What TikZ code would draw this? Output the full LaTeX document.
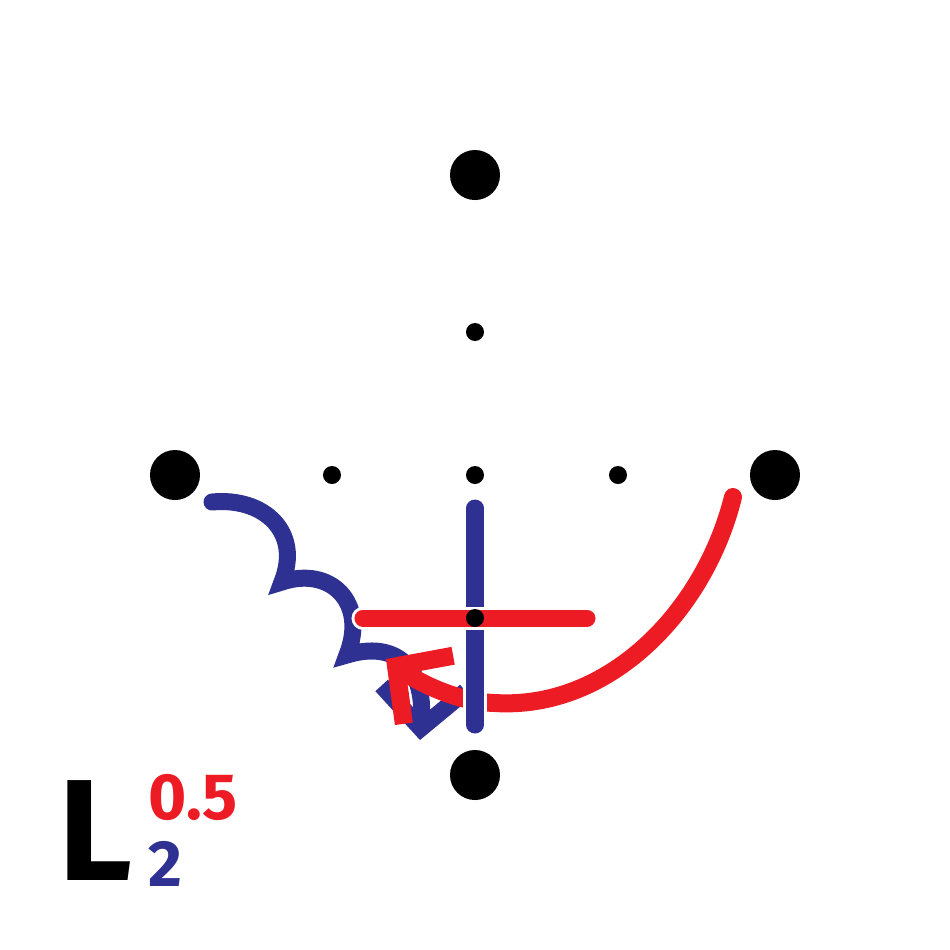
\documentclass[tikz,border=0pt]{standalone}
\usepackage{fontspec}
\setmainfont{Fira Sans}
\usetikzlibrary{arrows.meta}
\definecolor{myred}{HTML}{ED1C24}
\definecolor{myblue}{HTML}{2E3192}
\begin{document}
\begin{tikzpicture}[x=0.01cm,y=-0.01cm,
  bigdot/.style={circle,fill=black,inner sep=0pt,minimum size=0.5cm},
  smalldot/.style={circle,fill=black,inner sep=0pt,minimum size=0.18cm},
  strand/.style={line width=0.17cm,line cap=round},
  gapline/.style={line width=0.23cm,line cap=round,white},
  barb/.style={-{Straight Barb[length=0.4cm,width=0.84cm]}},
  lbl/.style={anchor=base west,inner sep=0pt,text depth=0pt}]
\useasboundingbox (0,0) rectangle (950,950);
% dots
\node[bigdot] (n) at (475,175) {};
\node[bigdot] (w) at (175,475) {};
\node[bigdot] (e) at (775,475) {};
\node[bigdot] (s) at (475,775) {};
\node[smalldot] (a) at (475,332) {};
\node[smalldot] (b) at (332,475) {};
\node[smalldot] (d) at (618,475) {};
% line end coordinates
\coordinate (bw0) at (212,502);
\coordinate (bw1) at (282,582);
\coordinate (bw2) at (347,655);
\coordinate (bw3) at (420,740);
\coordinate (rc0) at (733,497);
\coordinate (rc1) at (495,703);
\coordinate (rc2) at (386,659);
\coordinate (bv0) at (475,508);
\coordinate (bv1) at (475,725);
\coordinate (rh0) at (363,618);
\coordinate (rh1) at (587,618);
% blue wavy arrow
\draw[strand,myblue,barb] (bw0) .. controls (264,497) and (302,532) .. (bw1)
  .. controls (330,566) and (368,602) .. (bw2)
  .. controls (396,640) and (425,668) .. (bw3);
% red curved arrow
\draw[strand,line width=0.18cm,myred,barb] (rc0) .. controls (705,610) and (610,710) .. (rc1)
  .. controls (455,702) and (415,680) .. (rc2);
% blue vertical
\draw[gapline] (bv0) -- (bv1);
\draw[strand,myblue] (bv0) -- (bv1);
% red horizontal
\draw[gapline] (rh0) -- (rh1);
\draw[strand,myred] (rh0) -- (rh1);
% dots on top
\node[smalldot] (c) at (475,475) {};
\node[smalldot] (f) at (475,618) {};
% label
\node[lbl,text height=1cm,font=\fontsize{41}{41}\selectfont\bfseries] (L) at (58,880) {L};
\node[anchor=base west,inner sep=0pt,align=left,font=\fontsize{18.6}{18.8}\selectfont\bfseries] (idx) at (148,886) {\textcolor{myred}{0.5}\\\textcolor{myblue}{2}};
\end{tikzpicture}
\end{document}
